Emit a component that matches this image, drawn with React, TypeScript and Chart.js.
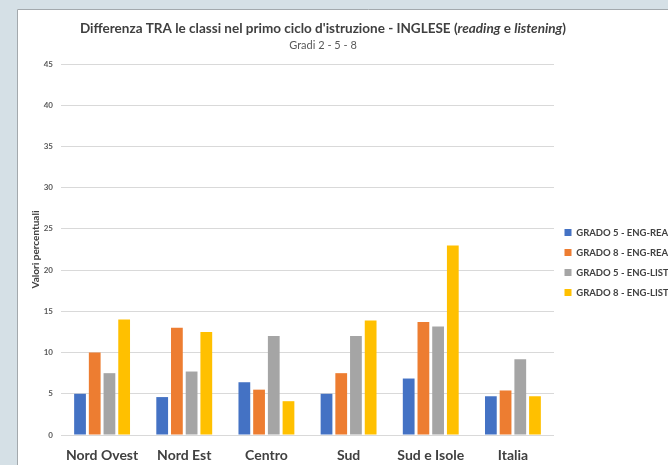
import React, { useEffect, useRef } from "react";
import { Chart, registerables } from "chart.js";

Chart.register(...registerables);

// ---- data ----
const categories = ["Nord Ovest", "Nord Est", "Centro", "Sud", "Sud e Isole", "Italia"];
const seriesLabels = [
  "GRADO 5 - ENG-REA",
  "GRADO 8 - ENG-REA",
  "GRADO 5 - ENG-LIST",
  "GRADO 8 - ENG-LIST",
];
const grado5Rea = [5.0, 4.6, 6.4, 5.0, 6.85, 4.7];
const grado8Rea = [10.0, 13.0, 5.5, 7.5, 13.7, 5.4];
const grado5List = [7.5, 7.7, 12.0, 12.0, 13.15, 9.2];
const grado8List = [14.0, 12.5, 4.1, 13.9, 23.0, 4.7];
const seriesColors = ["#4472c4", "#ed7d31", "#a5a5a5", "#ffc000"];
const yMin = 0;
const yMax = 45;
const yStep = 5;

const titleParts: { text: string; italic: boolean }[] = [
  { text: "Differenza TRA le classi nel primo ciclo d'istruzione - INGLESE (", italic: false },
  { text: "reading", italic: true },
  { text: " e ", italic: false },
  { text: "listening", italic: true },
  { text: ")", italic: false },
];
const subtitleText = "Gradi 2 - 5 - 8";
const yAxisTitle = "Valori percentuali";

const FONT = "Lato";
const PAGE_W = 668;
const PAGE_H = 465;
const CANVAS_W = 720;
const LEGEND_FONT_SIZE = 9.5;
const LEGEND_PAD = 10.5;
const LEGEND_BOX = 7;
const LEGEND_LEFT = 554;

const framePlugin = {
  id: "frame",
  beforeDraw(chart: any) {
    const { ctx, width, height } = chart;
    ctx.save();
    ctx.fillStyle = "#d5e0e6";
    ctx.fillRect(0, 0, width, height);
    ctx.fillStyle = "#ffffff";
    ctx.fillRect(17, 9, width - 17, height - 9);
    ctx.strokeStyle = "#a3a9ad";
    ctx.lineWidth = 1;
    ctx.beginPath();
    ctx.moveTo(17.5, height);
    ctx.lineTo(17.5, 9.5);
    ctx.lineTo(width, 9.5);
    ctx.stroke();
    ctx.restore();
  },
};

const headerPlugin = {
  id: "header",
  afterDraw(chart: any) {
    const { ctx } = chart;
    ctx.save();
    const size = 13.5;
    const fontFor = (italic: boolean) =>
      `${italic ? "italic " : ""}bold ${size}px ${FONT}`;
    let total = 0;
    const widths = titleParts.map((p) => {
      ctx.font = fontFor(p.italic);
      const w = ctx.measureText(p.text).width;
      total += w;
      return w;
    });
    const cx = 323;
    let x = cx - total / 2;
    ctx.fillStyle = "#404040";
    ctx.textBaseline = "alphabetic";
    ctx.textAlign = "left";
    titleParts.forEach((p, i) => {
      ctx.font = fontFor(p.italic);
      ctx.fillText(p.text, x, 33);
      x += widths[i];
    });
    ctx.font = `11px ${FONT}`;
    ctx.fillStyle = "#595959";
    ctx.textAlign = "center";
    ctx.fillText(subtitleText, cx, 49);
    ctx.restore();
  },
};

export default function App() {
  const canvasRef = useRef<HTMLCanvasElement | null>(null);

  useEffect(() => {
    if (!canvasRef.current) return;
    const seriesValues = [grado5Rea, grado8Rea, grado5List, grado8List];

    // measure widest legend label so that the legend's left edge lands where wanted
    const mctx = document.createElement("canvas").getContext("2d")!;
    mctx.font = `bold ${LEGEND_FONT_SIZE}px ${FONT}`;
    const textW = Math.max(...seriesLabels.map((l) => mctx.measureText(l).width));
    const legendW = LEGEND_PAD + LEGEND_BOX + LEGEND_FONT_SIZE / 2 + textW + 10;
    const padRight = Math.max(0, CANVAS_W - LEGEND_LEFT - legendW);

    const chart = new Chart(canvasRef.current, {
      type: "bar",
      data: {
        labels: categories,
        datasets: seriesLabels.map((label, i) => ({
          label,
          data: seriesValues[i],
          backgroundColor: seriesColors[i],
          borderWidth: 0,
          categoryPercentage: 0.716,
          barPercentage: 0.8,
        })),
      },
      options: {
        responsive: false,
        animation: false,
        devicePixelRatio: 1,
        layout: { padding: { left: 0, right: padRight, top: 64, bottom: 4 } },
        plugins: {
          title: { display: false },
          tooltip: { enabled: false },
          legend: {
            position: "right",
            labels: {
              boxWidth: LEGEND_BOX,
              boxHeight: LEGEND_BOX,
              padding: LEGEND_PAD,
              color: "#404040",
              font: { family: FONT, size: LEGEND_FONT_SIZE, weight: "bold" },
            },
          },
        },
        scales: {
          x: {
            grid: { display: false, drawTicks: false },
            border: { display: false },
            ticks: {
              padding: 12,
              color: "#404040",
              autoSkip: false,
              maxRotation: 0,
              font: { family: FONT, size: 14, weight: "bold" },
            },
            afterFit: (s: any) => {
              s.height = 26;
            },
          },
          y: {
            min: yMin,
            max: yMax,
            grid: { color: "#d9d9d9", drawTicks: false },
            border: { display: false },
            ticks: {
              stepSize: yStep,
              padding: 8,
              color: "#595959",
              font: { family: FONT, size: 8, weight: "bold" },
            },
            title: {
              display: true,
              text: yAxisTitle,
              color: "#404040",
              font: { family: FONT, size: 10, weight: "bold", lineHeight: 1.2 },
              padding: { top: 30, bottom: 0 },
            },
            afterFit: (s: any) => {
              s.width = 61;
            },
          },
        },
      },
      plugins: [framePlugin, headerPlugin],
    } as any);
    return () => chart.destroy();
  }, []);

  return (
    <div
      style={{
        position: "fixed",
        left: 0,
        top: 0,
        width: PAGE_W,
        height: PAGE_H,
        overflow: "hidden",
      }}
    >
      <canvas
        ref={canvasRef}
        width={CANVAS_W}
        height={PAGE_H}
        style={{ display: "block" }}
      />
    </div>
  );
}
